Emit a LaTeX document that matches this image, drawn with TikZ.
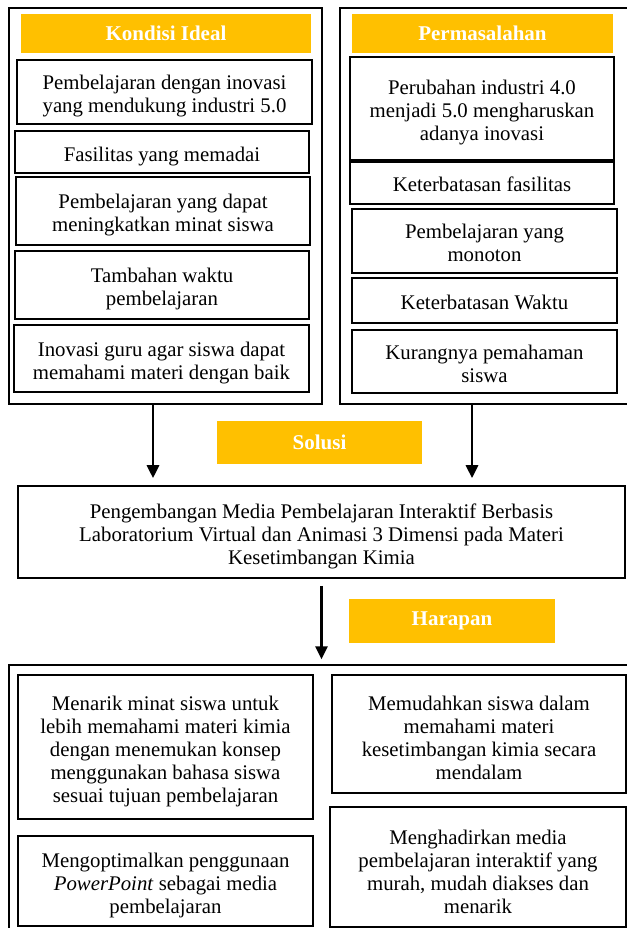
\documentclass[tikz,border=0pt]{standalone}
\usepackage{fontspec}
\setmainfont{Liberation Serif}
\usepackage{xcolor}
\usepackage{tikz}
\usetikzlibrary{arrows.meta,positioning,calc}
\definecolor{kuning}{HTML}{FFC000}

\tikzset{
  isi/.style={draw, line width=1.6pt, align=flush center, inner sep=0pt, minimum width=#1, text width=#1-8pt,
    font=\fontsize{20.8}{23}\selectfont,
    execute at begin node={\rule{0pt}{23pt}}, execute at end node={\rule[-5pt]{0pt}{5pt}}},
  turun/.style={execute at begin node={\rule{0pt}{#1}}},
  bingkai/.style={draw, line width=1.3pt, inner sep=0pt},
  judul/.style={fill=kuning, text=white, align=center, inner sep=0pt, font=\fontsize{21}{23}\selectfont\bfseries},
  panah/.style={-{Triangle[width=12pt,length=13pt]}, line width=2.8pt}
}

\begin{document}
\begin{tikzpicture}[x=1pt,y=-1pt]
\useasboundingbox (0,0) rectangle (626,928);

% kolom kiri: kondisi ideal
\node[bingkai, minimum width=313pt, minimum height=396pt] (kiri) at (165.5,206) {};
\node[judul, minimum width=290pt, minimum height=39pt] (ideal) at (166,33.5) {Kondisi Ideal};
\node[isi=295pt, minimum height=64pt] (ideal1) at (164.5,92) {Pembelajaran dengan inovasi\\yang mendukung industri 5.0};
\node[isi=294pt, minimum height=42pt] (ideal2) at (162,152) {Fasilitas yang memadai};
\node[isi=294pt, minimum height=68pt] (ideal3) at (163,211) {Pembelajaran yang dapat\\meningkatkan minat siswa};
\node[isi=294pt, minimum height=68pt] (ideal4) at (162,285) {Tambahan waktu\\pembelajaran};
\node[isi=295pt, minimum height=67pt] (ideal5) at (161.5,358.5) {Inovasi guru agar siswa dapat\\memahami materi dengan baik};

% kolom kanan: permasalahan
\node[bingkai, minimum width=300pt, minimum height=396pt] (kanan) at (490,206) {};
\node[judul, minimum width=261pt, minimum height=39pt] (masalah) at (482.5,33.5) {Permasalahan};
\node[isi=264pt, minimum height=103pt] (masalah1) at (482,108.5) {Perubahan industri 4.0\\menjadi 5.0 mengharuskan\\adanya inovasi};
\node[isi=264pt, minimum height=42pt] (masalah2) at (482,183) {Keterbatasan fasilitas};
\node[isi=265pt, minimum height=64pt] (masalah3) at (484.5,241) {Pembelajaran yang\\monoton};
\node[isi=265pt, minimum height=45pt] (masalah4) at (484.5,300.5) {Keterbatasan Waktu};
\node[isi=265pt, minimum height=63pt] (masalah5) at (484.5,361.5) {Kurangnya pemahaman\\siswa};

% solusi
\node[judul, minimum width=205pt, minimum height=43pt] (solusi) at (319.5,442.5) {Solusi};
\node[isi=607pt, minimum height=92pt] (utama) at (321.5,532) {Pengembangan Media Pembelajaran Interaktif Berbasis\\Laboratorium Virtual dan Animasi 3 Dimensi pada Materi\\Kesetimbangan Kimia};

% harapan
\node[judul, minimum width=206pt, minimum height=44pt] (harapan) at (452,621) {Harapan};
\node[bingkai, minimum width=631pt, minimum height=275pt] (bawah) at (324.5,802.5) {};
\node[isi=295pt, turun=24pt, minimum height=144pt] (harap1) at (165.5,747) {Menarik minat siswa untuk\\lebih memahami materi kimia\\dengan menemukan konsep\\menggunakan bahasa siswa\\sesuai tujuan pembelajaran};
\node[isi=294pt, turun=26pt, minimum height=118pt] (harap2) at (479,734) {Memudahkan siswa dalam\\memahami materi\\kesetimbangan kimia secara\\mendalam};
\node[isi=295pt, minimum height=90pt] (harap3) at (165.5,881) {Mengoptimalkan penggunaan\\\textit{PowerPoint} sebagai media\\pembelajaran};
\node[isi=296pt, turun=29pt, minimum height=120pt] (harap4) at (478,867) {Menghadirkan media\\pembelajaran interaktif yang\\murah, mudah diakses dan\\menarik};

% panah
\draw[panah, shorten >=7pt] ([xshift=-12.5pt]kiri.south) -- ([xshift=-12.5pt]kiri.south |- utama.north);
\draw[panah, shorten >=7pt] ([xshift=-18pt]kanan.south) -- ([xshift=-18pt]kanan.south |- utama.north);
\draw[panah, shorten <=7pt, shorten >=5pt] (utama.south) -- (bawah.north -| utama.south);
\end{tikzpicture}
\end{document}
